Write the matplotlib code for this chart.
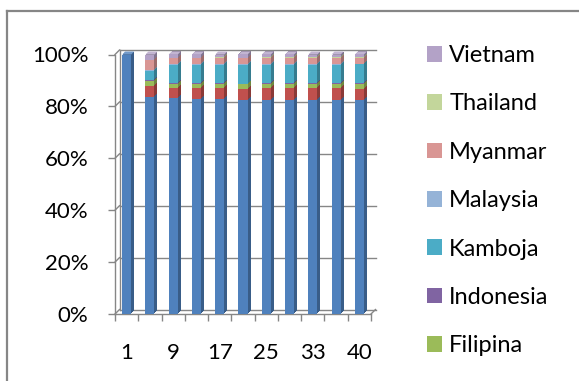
import numpy as np
import matplotlib
matplotlib.use("Agg")
import matplotlib.pyplot as plt
import matplotlib.transforms as mtransforms
from matplotlib.patches import Patch, Polygon
from matplotlib.lines import Line2D
from matplotlib.colors import to_rgb

plt.rcParams['font.family'] = 'Lato'

# Categories along the x axis (every other one gets a label)
categories = ['1', '5', '9', '13', '17', '21', '25', '29', '33', '37', '40']

# Shares per country (percent of each column)
seri_1     = [100.0, 83.5, 83.1, 82.9, 82.8, 82.7, 82.6, 82.6, 82.5, 82.5, 82.4]
seri_2     = [0.0, 4.3, 3.9, 4.1, 4.2, 4.2, 4.3, 4.3, 4.4, 4.4, 4.4]
filipina   = [0.0, 1.8, 1.7, 1.7, 1.8, 1.8, 1.8, 1.8, 1.8, 1.8, 1.8]
indonesia  = [0.0, 0.6, 0.3, 0.3, 0.3, 0.3, 0.3, 0.3, 0.3, 0.3, 0.3]
kamboja    = [0.0, 3.6, 7.1, 7.0, 7.0, 7.1, 7.1, 7.1, 7.1, 7.1, 7.2]
malaysia   = [0.0, 0.4, 0.3, 0.3, 0.3, 0.3, 0.3, 0.3, 0.3, 0.3, 0.3]
myanmar    = [0.0, 3.5, 2.2, 2.3, 2.3, 2.3, 2.3, 2.3, 2.3, 2.3, 2.3]
thailand   = [0.0, 0.2, 0.2, 0.2, 0.2, 0.2, 0.2, 0.2, 0.2, 0.2, 0.2]
vietnam    = [0.0, 2.1, 1.2, 1.2, 1.1, 1.3, 1.1, 1.1, 1.1, 1.1, 1.0]

names = ['Seri 1', 'Seri 2', 'Filipina', 'Indonesia', 'Kamboja',
         'Malaysia', 'Myanmar', 'Thailand', 'Vietnam']
series = [seri_1, seri_2, filipina, indonesia, kamboja,
          malaysia, myanmar, thailand, vietnam]
colors = ['#4F81BD', '#C0504D', '#9BBB59', '#8064A2', '#4BACC6',
          '#95B3D7', '#D99694', '#C3D69B', '#B3A2C7']
in_legend = ['Vietnam', 'Thailand', 'Myanmar', 'Malaysia',
             'Kamboja', 'Indonesia', 'Filipina']

grey = '#868686'
W, H = 579, 381
fig = plt.figure(figsize=(W / 100, H / 100), dpi=100)

# outer chart frame (runs off the right and bottom edges)
fig.add_artist(Line2D([7.5 / W, 7.5 / W], [0, 1 - 11 / H], color=grey, lw=1.6,
                      transform=fig.transFigure))
fig.add_artist(Line2D([7.5 / W, 1], [1 - 11 / H, 1 - 11 / H], color=grey, lw=1.6,
                      transform=fig.transFigure))

ax_w, ax_h = 256, 259.5
ax = fig.add_axes([115 / W, 67 / H, ax_w / W, ax_h / H])
n = len(categories)
x = np.arange(n)
ax.set_xlim(-0.5, n - 0.5)
ax.set_ylim(0, 1)

# 100% stacked: normalise every column
data = np.array(series, dtype=float)
shares = data / data.sum(axis=0)

# pixel offsets -> data units
px_x = n / ax_w
px_y = 1 / ax_h

# back wall and floor
wx, wy = 4.5 * px_x, 4.5 * px_y
yticks = np.linspace(0, 1, 6)
for yv in yticks:
    ax.plot([-0.5 + wx, n - 0.5 + wx], [yv + wy, yv + wy], color=grey, lw=1.0,
            zorder=1, clip_on=False)
    ax.plot([-0.5, -0.5 + wx], [yv, yv + wy], color=grey, lw=1.0,
            zorder=1, clip_on=False)
ax.plot([-0.5 + wx, -0.5 + wx], [wy, 1 + wy], color=grey, lw=1.0, zorder=1, clip_on=False)
ax.plot([n - 0.5, n - 0.5 + wx], [0, wy], color=grey, lw=1.0, zorder=1, clip_on=False)


def shifted(dx_px, dy_px):
    return ax.transData + mtransforms.ScaledTranslation(dx_px / 100, dy_px / 100,
                                                        fig.dpi_scale_trans)


def shade(c, f):
    r, g, b = to_rgb(c)
    if f < 1:
        return (r * f, g * f, b * f)
    return (r + (1 - r) * (f - 1), g + (1 - g) * (f - 1), b + (1 - b) * (f - 1))


bar_w = 0.39
depth = 3
bottom = np.zeros(n)
for vals, col in zip(shares, colors):
    # side faces: a few offset copies in a darker shade
    for k in range(1, depth + 1):
        ax.bar(x, vals, bar_w, bottom=bottom, color=shade(col, 0.72), linewidth=0,
               transform=shifted(k, k), zorder=2, clip_on=False)
    ax.bar(x, vals, bar_w, bottom=bottom, color=col, linewidth=0,
           zorder=3, clip_on=False)
    bottom += vals

# lighter top face of each column
dx_top, dy_top = depth * px_x, depth * px_y
for c in range(n):
    top_series = max(j for j in range(len(series)) if shares[j, c] > 0)
    x0, x1, yt = x[c] - bar_w / 2, x[c] + bar_w / 2, bottom[c]
    ax.add_patch(Polygon([(x0, yt), (x1, yt), (x1 + dx_top, yt + dy_top),
                          (x0 + dx_top, yt + dy_top)], closed=True,
                         facecolor=shade(colors[top_series], 1.2), edgecolor='none',
                         zorder=2.5, clip_on=False))

# axes styling
for s in ['top', 'right']:
    ax.spines[s].set_visible(False)
for s in ['left', 'bottom']:
    ax.spines[s].set_color(grey)
    ax.spines[s].set_linewidth(1.0)
    ax.spines[s].set_zorder(1)

ax.set_yticks(yticks)
ax.set_yticklabels([f'{int(round(v * 100))}%' for v in yticks])
ax.tick_params(axis='y', length=5, width=1.0, color=grey, pad=14,
               labelsize=16, labelcolor='black')

ax.set_xticks(np.arange(-0.5, n, 1.0))
ax.set_xticklabels([])
ax.tick_params(axis='x', which='major', length=5, width=1.0, color=grey)
ax.set_xticks(x[::2], categories[::2], minor=True)
ax.tick_params(axis='x', which='minor', length=0, pad=21, labelsize=16,
               labelcolor='black')

handles = [Patch(facecolor=colors[names.index(nm)], edgecolor='none') for nm in in_legend]
fig.legend(handles, in_legend, loc='upper left',
           bbox_to_anchor=(427 / W, 1 - 45 / H), frameon=False, fontsize=17,
           handlelength=0.64, handleheight=0.64, handletextpad=0.3,
           labelspacing=1.16, borderpad=0, borderaxespad=0)

fig.savefig('out.png', dpi=100)
